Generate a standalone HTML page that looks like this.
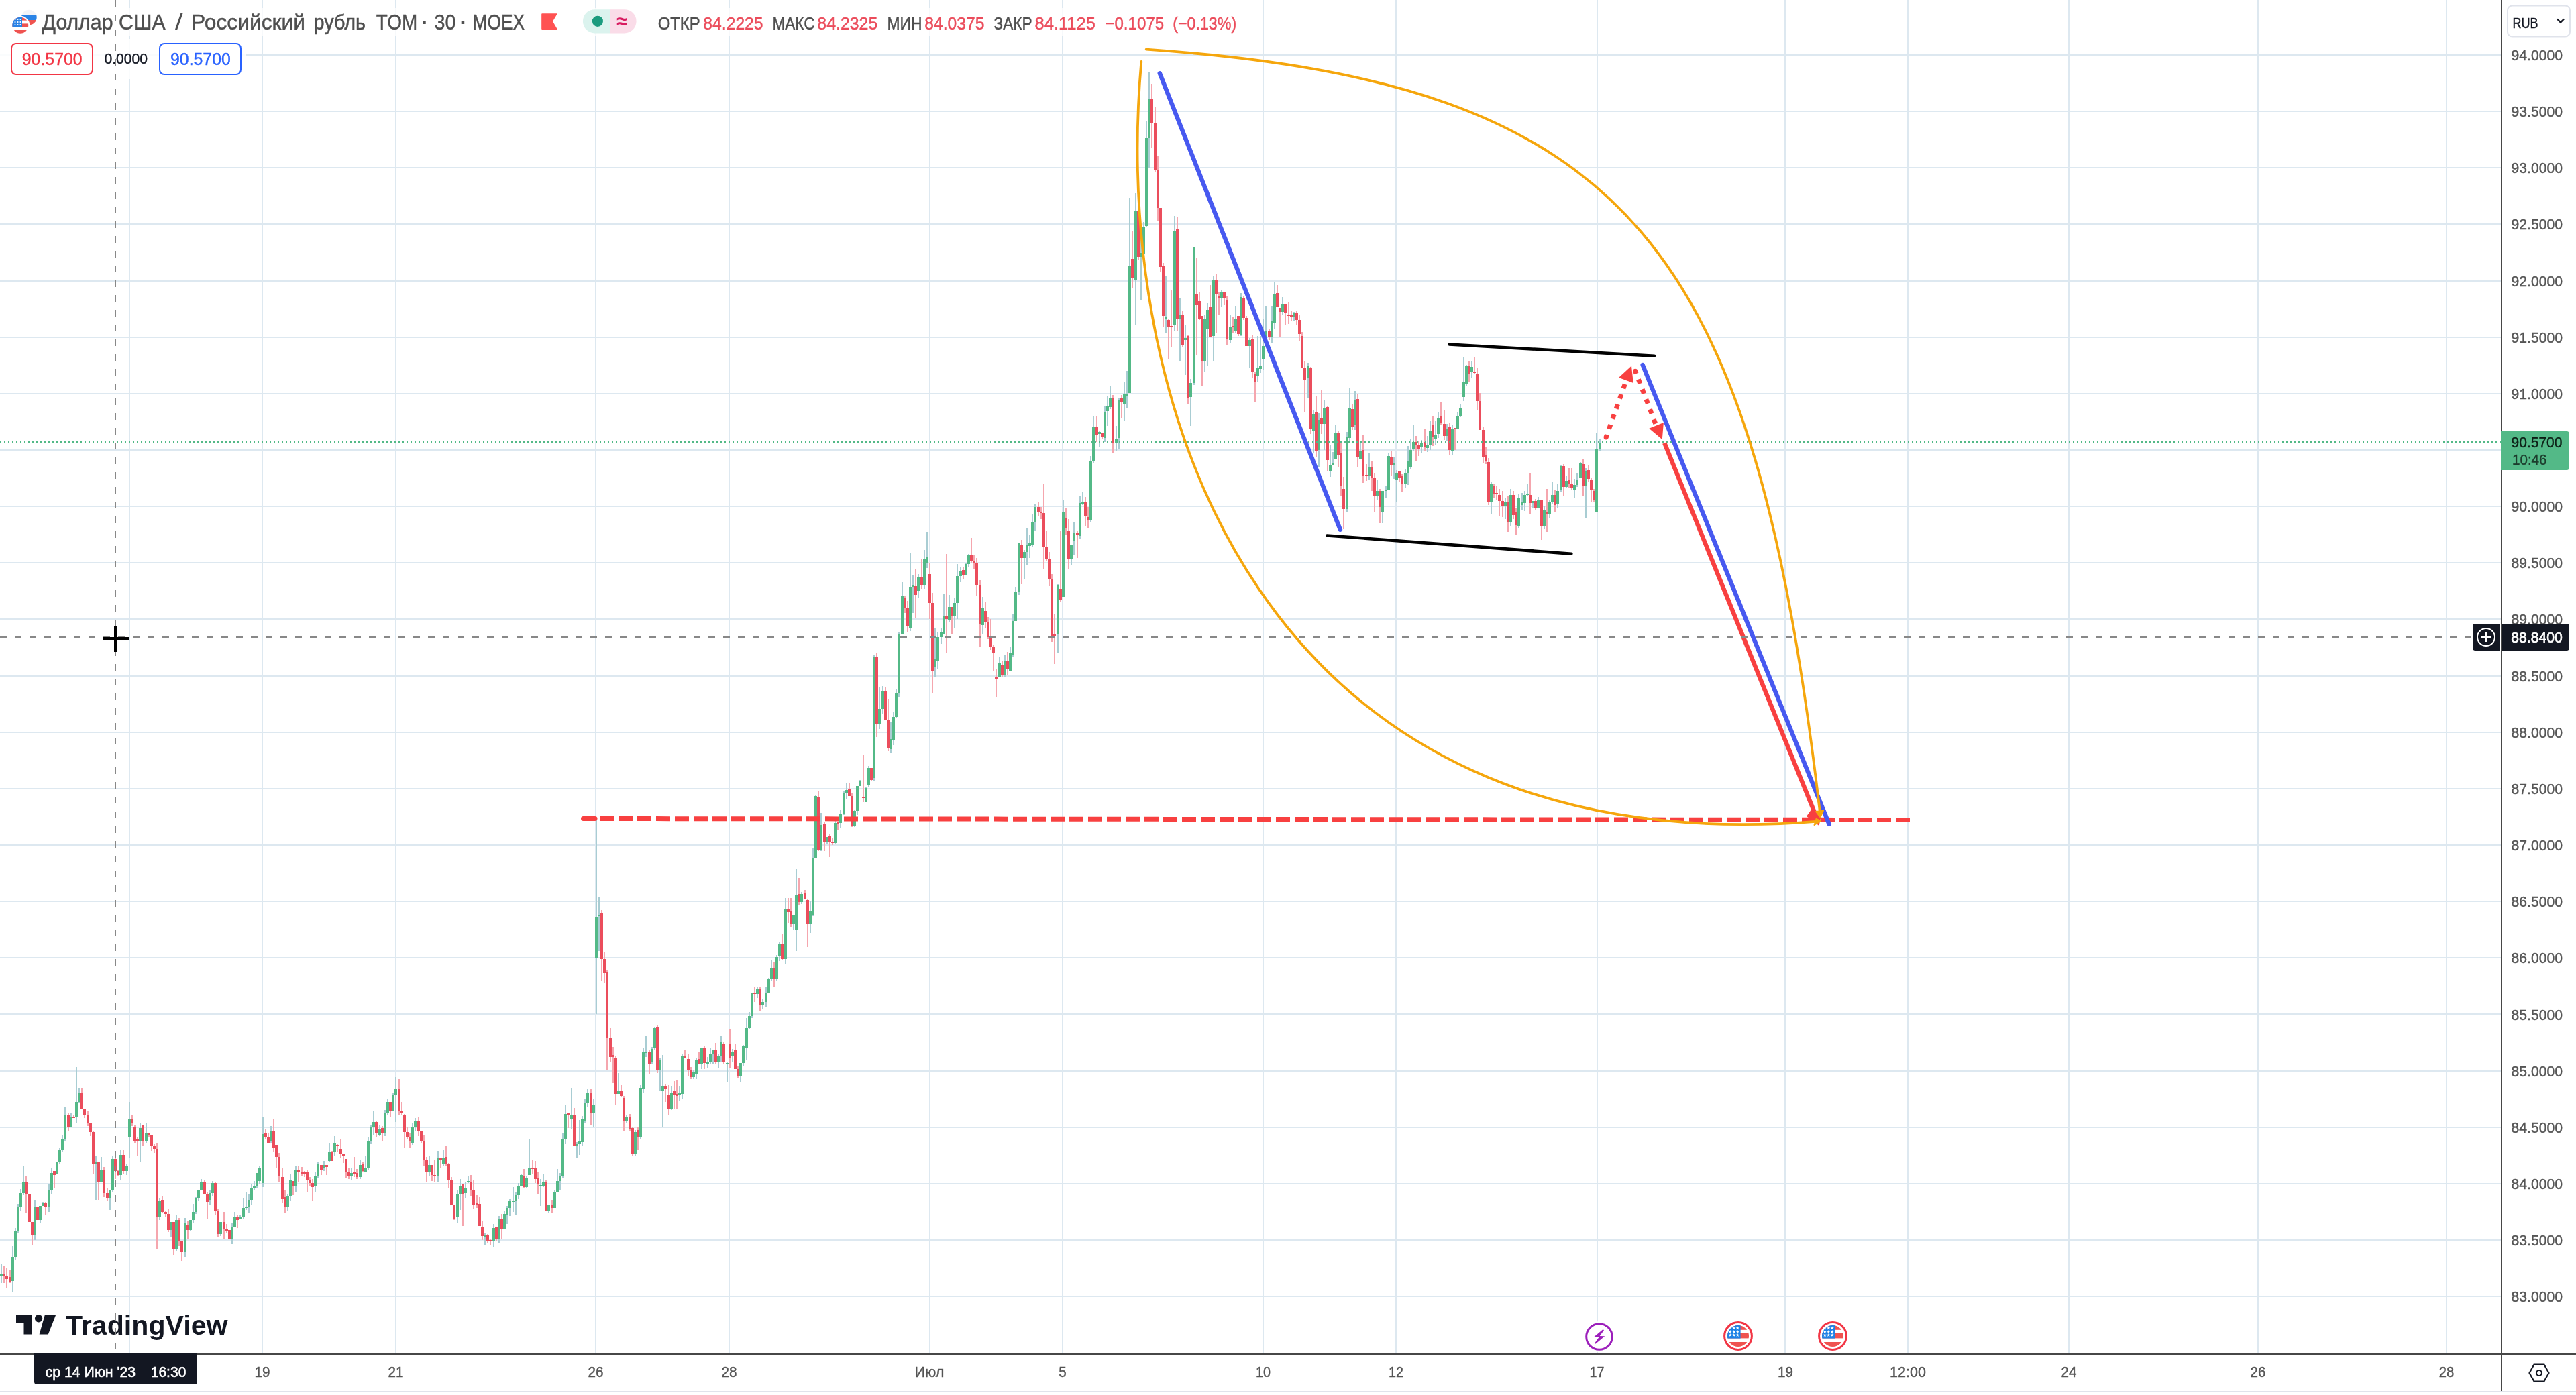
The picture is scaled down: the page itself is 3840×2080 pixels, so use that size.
<!DOCTYPE html><html lang="ru"><head><meta charset="utf-8"><title>USDRUB_TOM</title><style>html,body{margin:0;padding:0;background:#fff}body{width:3840px;height:2080px;overflow:hidden;font-family:"Liberation Sans", sans-serif}svg{display:block;will-change:transform;opacity:.999}</style></head><body><svg width="3840" height="2080" viewBox="0 0 3840 2080" font-family='"Liberation Sans", sans-serif'><rect width="3840" height="2080" fill="#fff"/><rect x="0" y="81" width="3728" height="2" fill="#dde8f0"/><rect x="0" y="165" width="3728" height="2" fill="#dde8f0"/><rect x="0" y="249" width="3728" height="2" fill="#dde8f0"/><rect x="0" y="333" width="3728" height="2" fill="#dde8f0"/><rect x="0" y="418" width="3728" height="2" fill="#dde8f0"/><rect x="0" y="502" width="3728" height="2" fill="#dde8f0"/><rect x="0" y="586" width="3728" height="2" fill="#dde8f0"/><rect x="0" y="670" width="3728" height="2" fill="#dde8f0"/><rect x="0" y="754" width="3728" height="2" fill="#dde8f0"/><rect x="0" y="838" width="3728" height="2" fill="#dde8f0"/><rect x="0" y="922" width="3728" height="2" fill="#dde8f0"/><rect x="0" y="1007" width="3728" height="2" fill="#dde8f0"/><rect x="0" y="1091" width="3728" height="2" fill="#dde8f0"/><rect x="0" y="1175" width="3728" height="2" fill="#dde8f0"/><rect x="0" y="1259" width="3728" height="2" fill="#dde8f0"/><rect x="0" y="1343" width="3728" height="2" fill="#dde8f0"/><rect x="0" y="1427" width="3728" height="2" fill="#dde8f0"/><rect x="0" y="1511" width="3728" height="2" fill="#dde8f0"/><rect x="0" y="1596" width="3728" height="2" fill="#dde8f0"/><rect x="0" y="1680" width="3728" height="2" fill="#dde8f0"/><rect x="0" y="1764" width="3728" height="2" fill="#dde8f0"/><rect x="0" y="1848" width="3728" height="2" fill="#dde8f0"/><rect x="0" y="1932" width="3728" height="2" fill="#dde8f0"/><rect x="192" y="0" width="2" height="2018" fill="#dde8f0"/><rect x="390" y="0" width="2" height="2018" fill="#dde8f0"/><rect x="589" y="0" width="2" height="2018" fill="#dde8f0"/><rect x="887" y="0" width="2" height="2018" fill="#dde8f0"/><rect x="1086" y="0" width="2" height="2018" fill="#dde8f0"/><rect x="1385" y="0" width="2" height="2018" fill="#dde8f0"/><rect x="1583" y="0" width="2" height="2018" fill="#dde8f0"/><rect x="1882" y="0" width="2" height="2018" fill="#dde8f0"/><rect x="2080" y="0" width="2" height="2018" fill="#dde8f0"/><rect x="2380" y="0" width="2" height="2018" fill="#dde8f0"/><rect x="2660" y="0" width="2" height="2018" fill="#dde8f0"/><rect x="2843" y="0" width="2" height="2018" fill="#dde8f0"/><rect x="3083" y="0" width="2" height="2018" fill="#dde8f0"/><rect x="3365" y="0" width="2" height="2018" fill="#dde8f0"/><rect x="3646" y="0" width="2" height="2018" fill="#dde8f0"/><path d="M2 1885V1913M19 1858V1927M23 1831V1878M27 1795V1838M31 1773V1805M35 1739V1782M52 1789V1849M60 1798V1824M64 1792V1798M73 1766V1807M77 1741V1780M85 1733V1751M89 1712V1735M93 1692V1718M97 1650V1701M106 1659V1680M114 1591V1674M118 1622V1645M143 1723V1789M151 1725V1762M164 1775V1804M168 1723V1778M180 1714V1760M189 1735V1752M193 1643V1726M209 1675V1732M218 1675V1705M238 1787V1819M255 1822V1845M263 1812V1866M276 1816V1874M284 1819V1836M288 1795V1823M292 1785V1810M296 1774V1791M300 1758V1774M313 1775V1797M317 1761V1783M329 1822V1843M346 1824V1855M350 1807V1830M358 1811V1817M363 1787V1818M367 1778V1804M371 1781V1808M375 1765V1797M379 1761V1774M383 1749V1771M387 1739V1765M392 1665V1770M404 1679V1704M429 1780V1805M433 1751V1790M441 1739V1777M470 1747V1778M474 1732V1757M483 1731V1746M491 1704V1733M499 1694V1723M524 1742V1760M537 1729V1758M545 1724V1747M549 1696V1744M553 1677V1706M557 1656V1692M566 1677V1694M574 1655V1694M578 1639V1662M586 1629V1656M590 1606V1673M615 1674V1707M619 1667V1686M640 1724V1753M653 1716V1762M661 1714V1739M682 1774V1823M686 1758V1804M694 1762V1787M698 1753V1764M723 1838V1856M736 1825V1859M744 1813V1854M752 1805V1833M756 1798V1825M760 1788V1813M765 1770V1807M769 1778V1812M773 1764V1788M777 1750V1769M785 1753V1772M789 1698V1752M806 1758V1798M810 1751V1770M818 1796V1808M827 1775V1801M831 1743V1777M835 1749V1774M839 1689V1757M843 1647V1706M852 1622V1683M860 1703V1726M864 1670V1722M868 1664V1709M872 1639V1675M876 1624V1651M885 1638V1681M889 1220V1512M893 1337V1418M922 1600V1631M934 1662V1674M947 1685V1723M955 1618V1698M959 1563V1629M963 1544V1576M972 1561V1586M976 1531V1566M984 1578V1626M988 1573V1680M1001 1619V1655M1013 1620V1642M1017 1572V1639M1034 1596V1609M1038 1578V1609M1046 1562V1594M1055 1576V1592M1059 1562V1586M1063 1566V1586M1071 1572V1592M1075 1544V1583M1084 1584V1613M1092 1564V1583M1104 1585V1614M1108 1558V1590M1113 1518V1580M1117 1509V1535M1121 1480V1518M1129 1472V1488M1137 1489V1504M1142 1472V1502M1146 1458V1480M1150 1432V1463M1158 1424V1463M1162 1404V1433M1171 1339V1438M1183 1365V1386M1187 1295V1418M1195 1330V1348M1208 1344V1391M1212 1264V1366M1216 1185V1279M1224 1212V1269M1233 1248V1259M1245 1223V1259M1253 1208V1235M1258 1180V1215M1262 1168V1192M1274 1207V1233M1278 1172V1215M1282 1163V1172M1291 1173V1196M1295 1142V1173M1303 977V1164M1311 1025V1087M1316 1023V1065M1328 1077V1123M1332 1061V1111M1336 1028V1071M1340 943V1040M1345 868V945M1357 825V941M1361 857V914M1369 856V892M1378 820V878M1382 793V847M1394 936V1010M1398 943V998M1403 936V960M1407 886V946M1415 887V927M1423 891V936M1427 841V923M1432 845V868M1440 840V858M1444 826V845M1465 890V946M1490 980V1010M1498 977V1010M1506 965V1001M1510 915V979M1514 875V926M1519 810V887M1527 820V863M1531 788V843M1535 797V832M1539 767V815M1543 752V791M1577 871V973M1585 745V890M1597 812V842M1601 778V827M1610 739V803M1614 734V753M1626 680V779M1630 620V690M1639 642V666M1647 605V659M1651 590V635M1655 575V610M1664 635V672M1668 593V669M1676 570V627M1680 553V608M1684 295V586M1693 288V485M1701 351V448M1705 331V381M1709 181V339M1713 107V250M1738 411V497M1751 322V493M1759 445V538M1767 484V559M1775 565V635M1780 368V574M1796 470V555M1800 452V546M1809 412V538M1821 432V458M1834 469V511M1842 457V497M1850 437V501M1863 504V549M1875 501V569M1879 501V556M1883 475V551M1887 457V516M1896 457V511M1900 421V491M1912 443V469M1929 465V479M1950 541V594M1958 612V675M1966 616V696M1974 596V671M1983 663V711M1987 674V694M1991 633V684M2008 644V763M2012 579V661M2020 583V641M2028 660V684M2041 676V715M2053 716V746M2061 732V780M2066 724V743M2070 676V730M2078 682V714M2082 701V749M2095 699V728M2099 665V723M2103 655V700M2107 633V672M2119 656V675M2128 650V674M2132 628V671M2140 628V663M2144 615V653M2157 632V658M2165 633V679M2173 615V639M2177 603V622M2182 533V598M2186 544V576M2194 538V564M2223 718V766M2244 742V774M2252 729V785M2264 736V787M2269 735V760M2273 732V762M2277 721V739M2285 747V757M2293 741V757M2302 754V789M2310 746V772M2314 718V752M2322 722V758M2327 694V733M2335 710V728M2347 714V743M2351 705V726M2356 689V713M2364 698V772M2380 646V763M2385 654V673" stroke="#a9cdd3" stroke-width="2" fill="none"/><path d="M-2 1895V1908M6 1887V1913M10 1891V1921M15 1893V1913M39 1754V1808M44 1781V1822M48 1822V1857M56 1799V1819M68 1792V1812M81 1746V1772M102 1659V1686M110 1662V1667M122 1622V1653M126 1653V1667M131 1657V1679M135 1675V1694M139 1686V1751M147 1733V1789M155 1740V1785M160 1771V1791M172 1722V1758M176 1744V1754M184 1715V1750M197 1663V1679M201 1678V1704M205 1695V1723M213 1678V1709M222 1690V1695M226 1692V1716M230 1706V1719M234 1705V1863M242 1783V1809M247 1805V1814M251 1802V1837M259 1822V1871M267 1816V1858M271 1850V1880M280 1821V1848M305 1759V1781M309 1777V1817M321 1762V1811M325 1803V1844M334 1807V1848M338 1825V1839M342 1834V1847M354 1811V1831M396 1683V1699M400 1690V1705M408 1668V1717M412 1707V1741M416 1719V1762M421 1741V1794M425 1775V1808M437 1761V1782M445 1738V1762M450 1740V1754M454 1746V1755M458 1744V1777M462 1755V1768M466 1758V1790M479 1737V1752M487 1737V1752M495 1716V1731M503 1706V1717M508 1698V1727M512 1720V1734M516 1728V1756M520 1742V1758M528 1725V1755M532 1743V1758M541 1732V1748M561 1671V1695M570 1679V1702M582 1643V1666M595 1609V1663M599 1643V1663M603 1661V1712M607 1680V1699M611 1689V1711M624 1666V1694M628 1686V1705M632 1692V1738M636 1725V1762M644 1737V1761M648 1729V1762M657 1727V1742M665 1709V1738M669 1734V1772M673 1755V1796M677 1796V1819M690 1765V1828M702 1752V1783M706 1759V1803M711 1782V1801M715 1785V1828M719 1821V1849M727 1840V1853M731 1847V1856M740 1830V1851M748 1810V1847M781 1743V1772M794 1729V1751M798 1731V1764M802 1748V1780M814 1760V1805M823 1789V1809M847 1660V1682M856 1652V1708M881 1624V1678M897 1357V1463M901 1420V1465M905 1447V1596M910 1533V1583M914 1561V1615M918 1574V1647M926 1618V1636M930 1634V1687M939 1661V1686M943 1680V1723M951 1680V1715M968 1566V1601M980 1529V1600M992 1617V1643M997 1618V1662M1005 1612V1654M1009 1611V1654M1021 1565V1577M1026 1571V1604M1030 1591V1609M1042 1568V1586M1050 1559V1594M1067 1555V1586M1079 1554V1586M1088 1534V1592M1096 1557V1594M1100 1590V1608M1125 1471V1494M1133 1472V1508M1154 1435V1471M1166 1392V1432M1175 1339V1376M1179 1339V1382M1191 1309V1349M1200 1327V1340M1204 1340V1412M1220 1180V1269M1229 1225V1269M1237 1243V1278M1241 1249V1260M1249 1225V1237M1266 1168V1187M1270 1183V1233M1287 1125V1196M1299 1145V1165M1307 974V1099M1320 1025V1074M1324 1042V1120M1349 889V914M1353 896V942M1365 848V921M1374 834V878M1386 840V923M1390 884V1034M1411 826V974M1419 905V945M1436 845V863M1448 802V840M1452 828V849M1456 832V888M1461 865V964M1469 898V936M1473 920V953M1477 923V969M1481 961V1001M1485 998V1040M1494 985V1010M1502 972V1007M1523 805V871M1548 748V769M1552 756V774M1556 722V848M1560 792V836M1564 823V874M1568 856V957M1572 915V990M1581 792V898M1589 758V797M1593 774V849M1606 792V832M1618 741V785M1622 756V788M1635 620V659M1643 645V655M1659 589V675M1672 589V623M1688 344V430M1697 299V388M1717 125V221M1722 159V257M1726 233V330M1730 310V406M1734 392V487M1742 475V535M1746 432V518M1755 323V494M1763 463V518M1771 499V603M1784 384V529M1788 436V477M1792 471V576M1804 425V503M1813 409V496M1817 436V470M1825 435V455M1829 441V515M1838 472V497M1846 471V501M1854 442V477M1858 471V516M1867 499V564M1871 554V599M1892 491V507M1904 425V458M1908 459V502M1916 453V484M1921 450V483M1925 463V478M1933 463V485M1937 469V508M1941 495V548M1945 539V614M1954 547V647M1962 591V681M1970 581V647M1979 605V703M1995 643V697M1999 657V740M2003 711V789M2016 603V641M2024 587V696M2032 649V720M2037 692V717M2045 688V732M2049 706V763M2057 729V780M2074 673V710M2086 703V719M2090 707V733M2111 650V687M2115 657V680M2124 639V672M2136 621V665M2148 600V634M2153 612V656M2161 631V679M2169 638V671M2190 538V570M2198 532V558M2202 549V612M2206 586V641M2211 636V690M2215 667V692M2219 683V753M2227 722V743M2231 724V745M2235 729V769M2240 732V771M2248 740V793M2256 732V774M2260 758V798M2281 705V767M2289 744V760M2298 745V805M2306 729V793M2318 730V763M2331 692V740M2339 698V727M2343 698V731M2360 685V740M2368 694V718M2372 713V748M2376 729V749" stroke="#f5a6ae" stroke-width="2" fill="none"/><path d="M2 1900V1902M19 1874V1910M23 1835V1874M27 1799V1835M31 1779V1799M35 1762V1779M52 1799V1841M60 1798V1819M64 1794V1798M73 1774V1799M77 1749V1774M85 1733V1751M89 1715V1733M93 1698V1715M97 1663V1698M106 1665V1680M114 1643V1666M118 1630V1643M143 1733V1736M151 1744V1762M164 1775V1787M168 1728V1775M180 1722V1752M189 1738V1746M193 1669V1695M209 1682V1702M218 1690V1701M238 1791V1815M255 1822V1834M263 1819V1863M276 1824V1867M284 1819V1834M288 1807V1819M292 1787V1807M296 1774V1787M300 1762V1774M313 1779V1789M317 1764V1779M329 1822V1840M346 1830V1847M350 1814V1830M358 1815V1817M363 1801V1815M367 1799V1801M371 1789V1799M375 1771V1789M379 1769V1771M383 1749V1769M387 1741V1761M392 1691V1764M404 1686V1702M429 1784V1800M433 1759V1784M441 1744V1768M470 1754V1768M474 1735V1754M483 1737V1742M491 1718V1731M499 1704V1717M524 1749V1754M537 1737V1755M545 1742V1747M549 1702V1741M553 1681V1702M557 1673V1681M566 1683V1692M574 1660V1689M578 1643V1660M586 1632V1656M590 1624V1632M615 1680V1704M619 1671V1680M640 1737V1747M653 1727V1754M661 1727V1735M682 1781V1815M686 1768V1781M694 1771V1779M698 1761V1763M723 1842V1844M736 1831V1851M744 1818V1848M752 1810V1833M756 1801V1811M760 1791V1801M765 1790V1792M769 1782V1791M773 1769V1782M777 1752V1769M785 1757V1770M789 1741V1752M806 1767V1769M810 1763V1768M818 1796V1805M827 1777V1801M831 1761V1777M835 1753V1761M839 1698V1753M843 1661V1698M852 1662V1668M860 1706V1708M864 1702V1706M868 1668V1703M872 1645V1671M876 1629V1644M885 1647V1660M889 1367V1429M893 1364V1366M922 1626V1631M934 1666V1672M947 1688V1721M955 1622V1696M959 1569V1623M963 1568V1570M972 1564V1584M976 1533V1563M984 1581V1596M988 1619V1627M1001 1629V1653M1013 1630V1633M1017 1574V1631M1034 1599V1606M1038 1580V1601M1046 1563V1586M1055 1584V1586M1059 1571V1584M1063 1566V1571M1071 1575V1584M1075 1554V1575M1084 1585V1587M1092 1568V1575M1104 1585V1605M1108 1560V1585M1113 1533V1562M1117 1515V1533M1121 1480V1515M1129 1474V1482M1137 1494V1499M1142 1480V1494M1146 1460V1480M1150 1443V1460M1158 1427V1460M1162 1408V1425M1171 1356V1430M1183 1365V1378M1187 1335V1387M1195 1333V1345M1208 1358V1378M1212 1279V1364M1216 1187V1279M1224 1230V1267M1233 1248V1255M1245 1227V1257M1253 1213V1227M1258 1183V1213M1262 1178V1183M1274 1209V1231M1278 1172V1209M1282 1165V1172M1291 1175V1196M1295 1145V1171M1303 980V1160M1311 1057V1080M1316 1030V1057M1328 1102V1117M1332 1069V1103M1336 1034V1069M1340 945V1034M1345 889V945M1357 875V937M1361 873V875M1369 860V881M1378 834V872M1382 830V839M1394 983V994M1398 950V986M1403 943V950M1407 918V945M1415 905V925M1423 899V919M1427 859V899M1432 852V859M1440 841V858M1444 827V841M1465 907V932M1490 988V1010M1498 986V1007M1506 973V1000M1510 926V977M1514 883V926M1519 810V883M1527 823V832M1531 813V823M1535 809V814M1539 779V812M1543 756V779M1577 872V946M1585 764V890M1597 812V834M1601 795V806M1610 750V799M1614 749V751M1626 688V776M1630 637V688M1639 644V647M1647 614V653M1651 605V613M1655 594V607M1664 655V660M1668 596V653M1676 588V602M1680 587V591M1684 397V586M1693 315V418M1701 377V383M1705 338V379M1709 206V337M1713 147V206M1738 473V476M1751 345V485M1759 470V475M1767 504V507M1775 571V592M1780 368V571M1796 476V538M1800 462V490M1809 418V501M1821 435V445M1834 487V507M1842 475V493M1850 443V499M1863 507V516M1875 549V560M1879 545V550M1883 516V536M1887 494V516M1896 479V503M1900 438V482M1912 454V465M1929 467V472M1950 546V563M1958 617V643M1966 626V671M1974 608V632M1983 693V703M1987 690V694M1991 646V684M2008 652V759M2012 609V653M2020 596V634M2028 672V684M2041 696V710M2053 732V740M2061 732V764M2066 730V732M2070 680V730M2078 690V694M2082 705V716M2095 705V721M2099 688V706M2103 671V696M2107 659V669M2119 660V667M2128 664V668M2132 642V663M2140 648V654M2144 624V647M2157 640V650M2165 640V673M2173 621V639M2177 608V620M2182 570V592M2186 546V572M2194 547V555M2223 722V749M2244 748V754M2252 738V779M2264 743V784M2269 749V753M2273 738V750M2277 736V738M2285 747V750M2293 745V757M2302 760V785M2310 748V766M2314 738V748M2322 732V752M2327 695V731M2335 717V726M2347 723V730M2351 716V723M2356 691V713M2364 703V725M2380 670V763M2385 660V670" stroke="#53b987" stroke-width="4" fill="none"/><path d="M-2 1896V1902M6 1899V1903M10 1903V1907M15 1904V1911M39 1762V1781M44 1781V1822M48 1822V1841M56 1799V1819M68 1794V1799M81 1746V1752M102 1663V1680M110 1665V1667M122 1630V1653M126 1653V1663M131 1663V1675M135 1675V1688M139 1688V1736M147 1733V1762M155 1744V1779M160 1779V1787M172 1728V1746M176 1746V1752M184 1722V1746M197 1669V1675M201 1680V1702M205 1698V1702M213 1678V1701M222 1690V1692M226 1692V1708M230 1708V1713M234 1713V1815M242 1789V1807M247 1807V1810M251 1810V1834M259 1822V1863M267 1819V1850M271 1850V1867M280 1827V1834M305 1762V1781M309 1781V1792M321 1764V1805M325 1805V1840M334 1822V1832M338 1832V1835M342 1834V1847M354 1814V1819M396 1690V1696M400 1696V1705M408 1686V1711M412 1707V1725M416 1725V1754M421 1755V1788M425 1785V1800M437 1761V1768M445 1745V1747M450 1748V1750M454 1748V1750M458 1748V1759M462 1759V1764M466 1764V1770M479 1737V1744M487 1737V1740M495 1718V1731M503 1707V1709M508 1713V1720M512 1720V1724M516 1728V1748M520 1748V1754M528 1748V1750M532 1749V1755M541 1735V1746M561 1673V1689M570 1682V1689M582 1643V1656M595 1624V1656M599 1657V1659M603 1663V1688M607 1688V1695M611 1695V1702M624 1671V1686M628 1686V1701M632 1701V1729M636 1729V1747M644 1737V1752M648 1752V1754M657 1727V1729M665 1725V1736M669 1736V1759M673 1759V1796M677 1796V1817M690 1765V1780M702 1762V1775M706 1774V1797M711 1793V1797M715 1795V1828M719 1829V1843M727 1842V1850M731 1849V1851M740 1830V1848M748 1818V1833M781 1754V1770M794 1741V1743M798 1741V1758M802 1756V1765M814 1763V1805M823 1797V1801M847 1660V1663M856 1663V1708M881 1629V1660M897 1361V1430M901 1430V1451M905 1449V1548M910 1548V1576M914 1573V1576M918 1577V1631M926 1626V1634M930 1637V1672M939 1665V1683M943 1682V1721M951 1685V1695M968 1568V1586M980 1532V1596M992 1619V1624M997 1633V1654M1005 1627V1632M1009 1631V1634M1021 1574V1577M1026 1579V1596M1030 1595V1606M1042 1579V1586M1050 1563V1585M1067 1565V1584M1079 1556V1584M1088 1556V1578M1096 1565V1594M1100 1594V1605M1125 1480V1482M1133 1475V1499M1154 1443V1460M1166 1408V1430M1175 1356V1360M1179 1358V1378M1191 1333V1345M1200 1331V1340M1204 1342V1378M1220 1188V1267M1229 1229V1255M1237 1246V1255M1241 1255V1257M1249 1226V1228M1266 1176V1187M1270 1187V1231M1287 1188V1190M1299 1145V1163M1307 980V1080M1320 1031V1074M1324 1074V1116M1349 891V906M1353 906V934M1365 874V887M1374 861V872M1386 856V899M1390 899V1001M1411 918V923M1419 905V919M1436 850V858M1448 827V837M1452 837V840M1456 840V872M1461 872V930M1469 911V927M1473 927V950M1477 952V965M1481 965V974M1485 1010V1012M1494 991V1007M1502 985V997M1523 812V832M1548 756V763M1552 763V765M1556 765V815M1560 816V834M1564 834V863M1568 864V949M1572 945V948M1581 878V894M1589 773V788M1593 791V834M1606 795V798M1618 749V770M1622 771V775M1635 637V648M1643 645V652M1659 594V660M1672 593V599M1688 386V414M1697 315V383M1717 147V183M1722 183V253M1726 254V310M1730 310V398M1734 397V471M1742 477V487M1746 486V488M1755 342V475M1763 469V514M1771 501V594M1784 439V455M1788 449V475M1792 471V538M1804 458V503M1813 418V438M1817 442V445M1825 435V445M1829 447V506M1838 486V488M1846 471V498M1854 445V474M1858 474V516M1867 506V554M1871 558V570M1892 493V503M1904 437V458M1908 459V465M1916 453V467M1921 469V471M1925 469V472M1933 466V477M1937 477V498M1941 501V548M1945 548V567M1954 549V639M1962 614V672M1970 623V632M1979 607V686M1995 646V679M1999 676V725M2003 729V759M2016 610V636M2024 595V681M2032 671V710M2037 708V710M2045 697V712M2049 712V740M2057 732V756M2074 681V694M2086 703V713M2090 710V721M2111 659V663M2115 663V669M2124 659V666M2136 634V652M2148 620V631M2153 632V650M2161 637V671M2169 638V640M2190 546V557M2198 554V556M2202 557V598M2206 598V641M2211 641V682M2215 678V688M2219 689V749M2227 724V737M2231 735V737M2235 738V747M2240 747V754M2248 748V779M2256 738V768M2260 764V783M2281 738V750M2289 747V757M2298 745V785M2306 764V767M2318 738V753M2331 695V726M2339 716V721M2343 721V728M2360 692V725M2368 701V714M2372 716V730M2376 732V745" stroke="#eb4d5c" stroke-width="4" fill="none"/><path d="M0 659H3728" stroke="#53b987" stroke-width="2" stroke-dasharray="2 4"/><path d="M869.5 1220.5H887" stroke="#f84040" stroke-width="7" stroke-linecap="round"/><rect x="880" y="1217" width="7" height="7" fill="#f84040"/><path d="M894 1220.53L2847.2 1222.5" stroke="#f84040" stroke-width="7" stroke-dasharray="21 7"/><path d="M2160.3 513.5L2466 530.7M1978.2 798.4L2342.4 825.7" stroke="#000" stroke-width="4.5" stroke-linecap="round"/><path d="M1728.8 109.3L1997.9 789.7M2448.7 544.1L2726.6 1228.8" stroke="#4759f0" stroke-width="6.5" stroke-linecap="round"/><path d="M2481.2 660.5L2708 1219" stroke="#f84040" stroke-width="6.5" stroke-linecap="butt"/><path d="M2711.5 1231L2693 1217L2700 1207L2716 1212Z" fill="#f84040"/><path d="M2394.1 651.9L2427.5 558" stroke="#f84040" stroke-width="7" stroke-dasharray="7 9" stroke-dashoffset="3"/><circle cx="2394.1" cy="651.9" r="3.5" fill="#f84040"/><path d="M2432 545.5L2413 563L2434.8 571Z" fill="#f84040"/><path d="M2437.7 553.3L2471 640" stroke="#f84040" stroke-width="7" stroke-dasharray="7 9" stroke-dashoffset="3"/><circle cx="2437.7" cy="553.3" r="3.5" fill="#f84040"/><path d="M2477.8 655.3L2458.3 638.7L2479.9 630.1Z" fill="#f84040"/><path d="M1708.7 73.7C2433.6 123.9 2614.3 367.1 2713.3 1214" stroke="#f5a60c" stroke-width="3.8" fill="none" stroke-linecap="round"/><path d="M1701.3 92C1656 611 1877.4 1291.2 2710 1224.6" stroke="#f5a60c" stroke-width="3.8" fill="none" stroke-linecap="round"/><path d="M2713.5 1218.4L2707.1 1210L2718 1208.7Z" fill="#f5a60c" stroke="#f5a60c" stroke-width="2" stroke-linejoin="round"/><path d="M2713.9 1223.9L2707.4 1221L2704.5 1230Z" fill="#f5a60c" stroke="#f5a60c" stroke-width="2" stroke-linejoin="round"/><rect x="0" y="12" width="1860" height="42" fill="#fff" fill-opacity="0.75"/><rect x="0" y="58" width="366" height="60" fill="#fff" fill-opacity="0.85"/><path d="M24 1960H47.6V1989.6H35.5V1972.3H24Z" fill="#131722"/><circle cx="57.6" cy="1965.8" r="5.7" fill="#131722"/><path d="M67 1960H83.4L71.8 1989.6H58.6Z" fill="#131722"/><text x="98" y="1989.6" font-size="41" fill="#131722" font-weight="bold" textLength="241.5" lengthAdjust="spacingAndGlyphs">TradingView</text><path d="M172 0V2018" stroke="#888" stroke-width="2" stroke-dasharray="10 12"/><path d="M0 950H3686" stroke="#888" stroke-width="2" stroke-dasharray="10 12"/><path d="M153 952H192M172 933V972" stroke="#000" stroke-width="4"/><rect x="3730" y="0" width="110" height="2018" fill="#fff"/><rect x="0" y="2020" width="3840" height="60" fill="#fff"/><rect x="3728" y="0" width="2" height="2074" fill="#474747"/><rect x="0" y="2018" width="3840" height="2" fill="#474747"/><rect x="0" y="2074" width="3840" height="2" fill="#e0e3eb"/><text x="3743.5" y="90.0" font-size="22.5" fill="#555" textLength="76.5" lengthAdjust="spacingAndGlyphs" stroke="#555" stroke-width="0.45">94.0000</text><text x="3743.5" y="174.1" font-size="22.5" fill="#555" textLength="76.5" lengthAdjust="spacingAndGlyphs" stroke="#555" stroke-width="0.45">93.5000</text><text x="3743.5" y="258.3" font-size="22.5" fill="#555" textLength="76.5" lengthAdjust="spacingAndGlyphs" stroke="#555" stroke-width="0.45">93.0000</text><text x="3743.5" y="342.4" font-size="22.5" fill="#555" textLength="76.5" lengthAdjust="spacingAndGlyphs" stroke="#555" stroke-width="0.45">92.5000</text><text x="3743.5" y="426.6" font-size="22.5" fill="#555" textLength="76.5" lengthAdjust="spacingAndGlyphs" stroke="#555" stroke-width="0.45">92.0000</text><text x="3743.5" y="510.7" font-size="22.5" fill="#555" textLength="76.5" lengthAdjust="spacingAndGlyphs" stroke="#555" stroke-width="0.45">91.5000</text><text x="3743.5" y="594.9" font-size="22.5" fill="#555" textLength="76.5" lengthAdjust="spacingAndGlyphs" stroke="#555" stroke-width="0.45">91.0000</text><text x="3743.5" y="679.0" font-size="22.5" fill="#555" textLength="76.5" lengthAdjust="spacingAndGlyphs" stroke="#555" stroke-width="0.45">90.5000</text><text x="3743.5" y="763.2" font-size="22.5" fill="#555" textLength="76.5" lengthAdjust="spacingAndGlyphs" stroke="#555" stroke-width="0.45">90.0000</text><text x="3743.5" y="847.3" font-size="22.5" fill="#555" textLength="76.5" lengthAdjust="spacingAndGlyphs" stroke="#555" stroke-width="0.45">89.5000</text><text x="3743.5" y="931.4" font-size="22.5" fill="#555" textLength="76.5" lengthAdjust="spacingAndGlyphs" stroke="#555" stroke-width="0.45">89.0000</text><text x="3743.5" y="1015.6" font-size="22.5" fill="#555" textLength="76.5" lengthAdjust="spacingAndGlyphs" stroke="#555" stroke-width="0.45">88.5000</text><text x="3743.5" y="1099.7" font-size="22.5" fill="#555" textLength="76.5" lengthAdjust="spacingAndGlyphs" stroke="#555" stroke-width="0.45">88.0000</text><text x="3743.5" y="1183.9" font-size="22.5" fill="#555" textLength="76.5" lengthAdjust="spacingAndGlyphs" stroke="#555" stroke-width="0.45">87.5000</text><text x="3743.5" y="1268.0" font-size="22.5" fill="#555" textLength="76.5" lengthAdjust="spacingAndGlyphs" stroke="#555" stroke-width="0.45">87.0000</text><text x="3743.5" y="1352.2" font-size="22.5" fill="#555" textLength="76.5" lengthAdjust="spacingAndGlyphs" stroke="#555" stroke-width="0.45">86.5000</text><text x="3743.5" y="1436.3" font-size="22.5" fill="#555" textLength="76.5" lengthAdjust="spacingAndGlyphs" stroke="#555" stroke-width="0.45">86.0000</text><text x="3743.5" y="1520.5" font-size="22.5" fill="#555" textLength="76.5" lengthAdjust="spacingAndGlyphs" stroke="#555" stroke-width="0.45">85.5000</text><text x="3743.5" y="1604.6" font-size="22.5" fill="#555" textLength="76.5" lengthAdjust="spacingAndGlyphs" stroke="#555" stroke-width="0.45">85.0000</text><text x="3743.5" y="1688.8" font-size="22.5" fill="#555" textLength="76.5" lengthAdjust="spacingAndGlyphs" stroke="#555" stroke-width="0.45">84.5000</text><text x="3743.5" y="1772.9" font-size="22.5" fill="#555" textLength="76.5" lengthAdjust="spacingAndGlyphs" stroke="#555" stroke-width="0.45">84.0000</text><text x="3743.5" y="1857.0" font-size="22.5" fill="#555" textLength="76.5" lengthAdjust="spacingAndGlyphs" stroke="#555" stroke-width="0.45">83.5000</text><text x="3743.5" y="1941.2" font-size="22.5" fill="#555" textLength="76.5" lengthAdjust="spacingAndGlyphs" stroke="#555" stroke-width="0.45">83.0000</text><text x="391" y="2053" font-size="22" fill="#555" text-anchor="middle" textLength="23" lengthAdjust="spacingAndGlyphs" stroke="#555" stroke-width="0.45">19</text><text x="590" y="2053" font-size="22" fill="#555" text-anchor="middle" textLength="23" lengthAdjust="spacingAndGlyphs" stroke="#555" stroke-width="0.45">21</text><text x="888" y="2053" font-size="22" fill="#555" text-anchor="middle" textLength="23" lengthAdjust="spacingAndGlyphs" stroke="#555" stroke-width="0.45">26</text><text x="1087" y="2053" font-size="22" fill="#555" text-anchor="middle" textLength="23" lengthAdjust="spacingAndGlyphs" stroke="#555" stroke-width="0.45">28</text><text x="1385.5" y="2053" font-size="22" fill="#555" text-anchor="middle" textLength="44" lengthAdjust="spacingAndGlyphs" stroke="#555" stroke-width="0.45">Июл</text><text x="1584" y="2053" font-size="22" fill="#555" text-anchor="middle" textLength="11.5" lengthAdjust="spacingAndGlyphs" stroke="#555" stroke-width="0.45">5</text><text x="1883" y="2053" font-size="22" fill="#555" text-anchor="middle" textLength="22" lengthAdjust="spacingAndGlyphs" stroke="#555" stroke-width="0.45">10</text><text x="2081" y="2053" font-size="22" fill="#555" text-anchor="middle" textLength="22" lengthAdjust="spacingAndGlyphs" stroke="#555" stroke-width="0.45">12</text><text x="2380.5" y="2053" font-size="22" fill="#555" text-anchor="middle" textLength="22" lengthAdjust="spacingAndGlyphs" stroke="#555" stroke-width="0.45">17</text><text x="2661.5" y="2053" font-size="22" fill="#555" text-anchor="middle" textLength="23" lengthAdjust="spacingAndGlyphs" stroke="#555" stroke-width="0.45">19</text><text x="2844" y="2053" font-size="22" fill="#555" text-anchor="middle" textLength="54" lengthAdjust="spacingAndGlyphs" stroke="#555" stroke-width="0.45">12:00</text><text x="3084" y="2053" font-size="22" fill="#555" text-anchor="middle" textLength="23" lengthAdjust="spacingAndGlyphs" stroke="#555" stroke-width="0.45">24</text><text x="3366" y="2053" font-size="22" fill="#555" text-anchor="middle" textLength="23" lengthAdjust="spacingAndGlyphs" stroke="#555" stroke-width="0.45">26</text><text x="3647" y="2053" font-size="22" fill="#555" text-anchor="middle" textLength="22.5" lengthAdjust="spacingAndGlyphs" stroke="#555" stroke-width="0.45">28</text><path d="M3728 643H3826a4 4 0 0 1 4 4V697a4 4 0 0 1 -4 4H3728Z" fill="#53b987"/><text x="3743.5" y="667" font-size="22" fill="#0d1f16" textLength="76" lengthAdjust="spacingAndGlyphs" stroke="#0d1f16" stroke-width="0.45">90.5700</text><text x="3745" y="693" font-size="22" fill="#1d3d2d" textLength="51.5" lengthAdjust="spacingAndGlyphs" stroke="#1d3d2d" stroke-width="0.45">10:46</text><path d="M3726 930H3690a4 4 0 0 0 -4 4V966a4 4 0 0 0 4 4H3726Z" fill="#131722"/><path d="M3730 930H3826a4 4 0 0 1 4 4V966a4 4 0 0 1 -4 4H3730Z" fill="#131722"/><rect x="3728" y="930" width="2" height="40" fill="#474747"/><circle cx="3706" cy="950" r="13" fill="none" stroke="#fff" stroke-width="2"/><path d="M3699 950H3713M3706 943V957" stroke="#fff" stroke-width="2.5"/><text x="3743.3" y="958" font-size="22" fill="#fff" textLength="76.5" lengthAdjust="spacingAndGlyphs" stroke="#fff" stroke-width="0.7">88.8400</text><path d="M51 2018H294V2060a4 4 0 0 1 -4 4H55a4 4 0 0 1 -4 -4Z" fill="#131722"/><text x="67.7" y="2053" font-size="22" fill="#fff" textLength="134.5" lengthAdjust="spacingAndGlyphs" stroke="#fff" stroke-width="0.6">ср 14 Июн '23</text><text x="224.7" y="2053" font-size="22" fill="#fff" textLength="52.7" lengthAdjust="spacingAndGlyphs" stroke="#fff" stroke-width="0.6">16:30</text><rect x="3738" y="8.5" width="93" height="46" rx="7" fill="#fff" stroke="#e0e3eb" stroke-width="2"/><text x="3745.5" y="41.5" font-size="22" fill="#131722" textLength="38" lengthAdjust="spacingAndGlyphs" stroke="#131722" stroke-width="0.45">RUB</text><path d="M3812 28.5l5 5l5 -5" fill="none" stroke="#131722" stroke-width="2.4"/><path d="M3770.5 2047l7 -12.5h15l7 12.5l-7 12.5h-15Z" fill="none" stroke="#131722" stroke-width="2.2"/><circle cx="3785" cy="2047" r="4" fill="none" stroke="#131722" stroke-width="2.2"/><defs><clipPath id="cru"><circle cx="43.4" cy="26" r="11.3"/></clipPath><clipPath id="cus"><circle cx="30.3" cy="37.8" r="12"/></clipPath></defs><g clip-path="url(#cru)"><rect x="30" y="12" width="28" height="10" fill="#f3f4f8"/><rect x="30" y="22" width="28" height="8" fill="#2a83e6"/><rect x="30" y="30" width="28" height="9" fill="#ef5350"/></g><circle cx="30.3" cy="37.8" r="14" fill="#fff"/><g clip-path="url(#cus)"><rect x="18" y="25" width="26" height="26" fill="#fff"/><rect x="18" y="25.8" width="26" height="4.8" fill="#ef5350"/><rect x="18" y="35.4" width="26" height="4.8" fill="#ef5350"/><rect x="18" y="45" width="26" height="5" fill="#ef5350"/><rect x="18" y="25" width="15" height="15.2" fill="#2a83e6"/><circle cx="22.5" cy="29" r="1.1" fill="#fff"/><circle cx="22.5" cy="33" r="1.1" fill="#fff"/><circle cx="22.5" cy="37" r="1.1" fill="#fff"/><circle cx="26.5" cy="29" r="1.1" fill="#fff"/><circle cx="26.5" cy="33" r="1.1" fill="#fff"/><circle cx="26.5" cy="37" r="1.1" fill="#fff"/><circle cx="30.5" cy="29" r="1.1" fill="#fff"/><circle cx="30.5" cy="33" r="1.1" fill="#fff"/><circle cx="30.5" cy="37" r="1.1" fill="#fff"/></g><text x="62.6" y="43.6" font-size="31" fill="#4f4f4f" textLength="184" lengthAdjust="spacingAndGlyphs" stroke="#4f4f4f" stroke-width="0.45">Доллар США</text><text x="261" y="43.6" font-size="33" fill="#4f4f4f" textLength="11.5" lengthAdjust="spacingAndGlyphs">/</text><text x="285" y="43.6" font-size="31" fill="#4f4f4f" textLength="170" lengthAdjust="spacingAndGlyphs" stroke="#4f4f4f" stroke-width="0.45">Российский</text><text x="467.5" y="43.6" font-size="31" fill="#4f4f4f" textLength="77.5" lengthAdjust="spacingAndGlyphs" stroke="#4f4f4f" stroke-width="0.45">рубль</text><text x="560.7" y="43.6" font-size="31" fill="#4f4f4f" textLength="61.5" lengthAdjust="spacingAndGlyphs" stroke="#4f4f4f" stroke-width="0.45">TOM</text><text x="628" y="43.6" font-size="32" fill="#4f4f4f" font-weight="bold">·</text><text x="647.5" y="43.6" font-size="31" fill="#4f4f4f" textLength="32" lengthAdjust="spacingAndGlyphs" stroke="#4f4f4f" stroke-width="0.45">30</text><text x="685.5" y="43.6" font-size="32" fill="#4f4f4f" font-weight="bold">·</text><text x="704.6" y="43.6" font-size="31" fill="#4f4f4f" textLength="77.6" lengthAdjust="spacingAndGlyphs" stroke="#4f4f4f" stroke-width="0.45">MOEX</text><path d="M808.2 20.2H831L824 32L831 44H808.2a1 1 0 0 1 -1 -1V21.2a1 1 0 0 1 1 -1Z" fill="#ff5252"/><path d="M909 14.2H886.5a17.6 17.6 0 0 0 0 35.2H909Z" fill="#dbf3ee"/><path d="M909 14.2H931a17.6 17.6 0 0 1 0 35.2H909Z" fill="#fadce8"/><circle cx="890.9" cy="31.8" r="8.1" fill="#1a9b7e"/><text x="927" y="42" font-size="30" fill="#d81b60" font-weight="bold" text-anchor="middle" font-style="italic">≈</text><text x="980.7" y="43.5" font-size="26" fill="#4f4f4f" textLength="63" lengthAdjust="spacingAndGlyphs" stroke="#4f4f4f" stroke-width="0.45">ОТКР</text><text x="1048.3" y="43.5" font-size="26" fill="#eb4d5c" textLength="89.3" lengthAdjust="spacingAndGlyphs" stroke="#eb4d5c" stroke-width="0.45">84.2225</text><text x="1151.6" y="43.5" font-size="26" fill="#4f4f4f" textLength="62.8" lengthAdjust="spacingAndGlyphs" stroke="#4f4f4f" stroke-width="0.45">МАКС</text><text x="1218.3" y="43.5" font-size="26" fill="#eb4d5c" textLength="90" lengthAdjust="spacingAndGlyphs" stroke="#eb4d5c" stroke-width="0.45">84.2325</text><text x="1322.4" y="43.5" font-size="26" fill="#4f4f4f" textLength="52" lengthAdjust="spacingAndGlyphs" stroke="#4f4f4f" stroke-width="0.45">МИН</text><text x="1378.3" y="43.5" font-size="26" fill="#eb4d5c" textLength="89.2" lengthAdjust="spacingAndGlyphs" stroke="#eb4d5c" stroke-width="0.45">84.0375</text><text x="1481.5" y="43.5" font-size="26" fill="#4f4f4f" textLength="57" lengthAdjust="spacingAndGlyphs" stroke="#4f4f4f" stroke-width="0.45">ЗАКР</text><text x="1542.5" y="43.5" font-size="26" fill="#eb4d5c" textLength="90.4" lengthAdjust="spacingAndGlyphs" stroke="#eb4d5c" stroke-width="0.45">84.1125</text><text x="1647.3" y="43.5" font-size="26" fill="#eb4d5c" textLength="88" lengthAdjust="spacingAndGlyphs" stroke="#eb4d5c" stroke-width="0.45">−0.1075</text><text x="1748.2" y="43.5" font-size="26" fill="#eb4d5c" textLength="95" lengthAdjust="spacingAndGlyphs" stroke="#eb4d5c" stroke-width="0.45">(−0.13%)</text><rect x="17" y="65" width="121" height="46" rx="7" fill="#fff" stroke="#f23645" stroke-width="2"/><text x="32.8" y="97" font-size="26" fill="#f23645" textLength="89.8" lengthAdjust="spacingAndGlyphs" stroke="#f23645" stroke-width="0.45">90.5700</text><text x="155.4" y="95.4" font-size="22" fill="#131722" textLength="64.6" lengthAdjust="spacingAndGlyphs" stroke="#131722" stroke-width="0.45">0.0000</text><rect x="238" y="65" width="121" height="46" rx="7" fill="#fff" stroke="#2962ff" stroke-width="2"/><text x="254" y="97" font-size="26" fill="#2962ff" textLength="89.8" lengthAdjust="spacingAndGlyphs" stroke="#2962ff" stroke-width="0.45">90.5700</text><circle cx="2384" cy="1993" r="23" fill="#fff"/><circle cx="2384" cy="1993" r="19.3" fill="none" stroke="#9c1fbb" stroke-width="3"/><path d="M2389.6 1982.1L2391 1983.3L2384.7 1991.9L2392.2 1992.2L2378.4 2003.8L2377.3 2002.6L2383.6 1993.8L2375.9 1993.6Z" fill="#9c1fbb"/><g transform="translate(2591 1992)"><circle r="23.5" fill="#fff"/><circle r="20.4" fill="none" stroke="#f23645" stroke-width="3"/><clipPath id="f2591"><circle r="16"/></clipPath><g clip-path="url(#f2591)"><rect x="-16" y="-16" width="32" height="32" fill="#fff"/><rect x="-16" y="-16" width="32" height="6.8" fill="#ef5350"/><rect x="-16" y="-4" width="32" height="7.4" fill="#ef5350"/><rect x="-16" y="9" width="32" height="8" fill="#ef5350"/><rect x="-16" y="-16" width="19.6" height="19.6" fill="#1e82e6"/><path d="M-11.70 -14.40L-11.02 -12.63L-9.13 -12.53L-10.61 -11.34L-10.11 -9.52L-11.70 -10.55L-13.29 -9.52L-12.79 -11.34L-14.27 -12.53L-12.38 -12.63Z" fill="#fff"/><path d="M-11.70 -9.10L-11.02 -7.33L-9.13 -7.23L-10.61 -6.04L-10.11 -4.22L-11.70 -5.25L-13.29 -4.22L-12.79 -6.04L-14.27 -7.23L-12.38 -7.33Z" fill="#fff"/><path d="M-11.70 -4.00L-11.02 -2.23L-9.13 -2.13L-10.61 -0.94L-10.11 0.88L-11.70 -0.15L-13.29 0.88L-12.79 -0.94L-14.27 -2.13L-12.38 -2.23Z" fill="#fff"/><path d="M-6.20 -14.40L-5.52 -12.63L-3.63 -12.53L-5.11 -11.34L-4.61 -9.52L-6.20 -10.55L-7.79 -9.52L-7.29 -11.34L-8.77 -12.53L-6.88 -12.63Z" fill="#fff"/><path d="M-6.20 -9.10L-5.52 -7.33L-3.63 -7.23L-5.11 -6.04L-4.61 -4.22L-6.20 -5.25L-7.79 -4.22L-7.29 -6.04L-8.77 -7.23L-6.88 -7.33Z" fill="#fff"/><path d="M-6.20 -4.00L-5.52 -2.23L-3.63 -2.13L-5.11 -0.94L-4.61 0.88L-6.20 -0.15L-7.79 0.88L-7.29 -0.94L-8.77 -2.13L-6.88 -2.23Z" fill="#fff"/><path d="M-0.80 -14.40L-0.12 -12.63L1.77 -12.53L0.29 -11.34L0.79 -9.52L-0.80 -10.55L-2.39 -9.52L-1.89 -11.34L-3.37 -12.53L-1.48 -12.63Z" fill="#fff"/><path d="M-0.80 -9.10L-0.12 -7.33L1.77 -7.23L0.29 -6.04L0.79 -4.22L-0.80 -5.25L-2.39 -4.22L-1.89 -6.04L-3.37 -7.23L-1.48 -7.33Z" fill="#fff"/><path d="M-0.80 -4.00L-0.12 -2.23L1.77 -2.13L0.29 -0.94L0.79 0.88L-0.80 -0.15L-2.39 0.88L-1.89 -0.94L-3.37 -2.13L-1.48 -2.23Z" fill="#fff"/></g></g><g transform="translate(2732 1992)"><circle r="23.5" fill="#fff"/><circle r="20.4" fill="none" stroke="#f23645" stroke-width="3"/><clipPath id="f2732"><circle r="16"/></clipPath><g clip-path="url(#f2732)"><rect x="-16" y="-16" width="32" height="32" fill="#fff"/><rect x="-16" y="-16" width="32" height="6.8" fill="#ef5350"/><rect x="-16" y="-4" width="32" height="7.4" fill="#ef5350"/><rect x="-16" y="9" width="32" height="8" fill="#ef5350"/><rect x="-16" y="-16" width="19.6" height="19.6" fill="#1e82e6"/><path d="M-11.70 -14.40L-11.02 -12.63L-9.13 -12.53L-10.61 -11.34L-10.11 -9.52L-11.70 -10.55L-13.29 -9.52L-12.79 -11.34L-14.27 -12.53L-12.38 -12.63Z" fill="#fff"/><path d="M-11.70 -9.10L-11.02 -7.33L-9.13 -7.23L-10.61 -6.04L-10.11 -4.22L-11.70 -5.25L-13.29 -4.22L-12.79 -6.04L-14.27 -7.23L-12.38 -7.33Z" fill="#fff"/><path d="M-11.70 -4.00L-11.02 -2.23L-9.13 -2.13L-10.61 -0.94L-10.11 0.88L-11.70 -0.15L-13.29 0.88L-12.79 -0.94L-14.27 -2.13L-12.38 -2.23Z" fill="#fff"/><path d="M-6.20 -14.40L-5.52 -12.63L-3.63 -12.53L-5.11 -11.34L-4.61 -9.52L-6.20 -10.55L-7.79 -9.52L-7.29 -11.34L-8.77 -12.53L-6.88 -12.63Z" fill="#fff"/><path d="M-6.20 -9.10L-5.52 -7.33L-3.63 -7.23L-5.11 -6.04L-4.61 -4.22L-6.20 -5.25L-7.79 -4.22L-7.29 -6.04L-8.77 -7.23L-6.88 -7.33Z" fill="#fff"/><path d="M-6.20 -4.00L-5.52 -2.23L-3.63 -2.13L-5.11 -0.94L-4.61 0.88L-6.20 -0.15L-7.79 0.88L-7.29 -0.94L-8.77 -2.13L-6.88 -2.23Z" fill="#fff"/><path d="M-0.80 -14.40L-0.12 -12.63L1.77 -12.53L0.29 -11.34L0.79 -9.52L-0.80 -10.55L-2.39 -9.52L-1.89 -11.34L-3.37 -12.53L-1.48 -12.63Z" fill="#fff"/><path d="M-0.80 -9.10L-0.12 -7.33L1.77 -7.23L0.29 -6.04L0.79 -4.22L-0.80 -5.25L-2.39 -4.22L-1.89 -6.04L-3.37 -7.23L-1.48 -7.33Z" fill="#fff"/><path d="M-0.80 -4.00L-0.12 -2.23L1.77 -2.13L0.29 -0.94L0.79 0.88L-0.80 -0.15L-2.39 0.88L-1.89 -0.94L-3.37 -2.13L-1.48 -2.23Z" fill="#fff"/></g></g></svg></body></html>
